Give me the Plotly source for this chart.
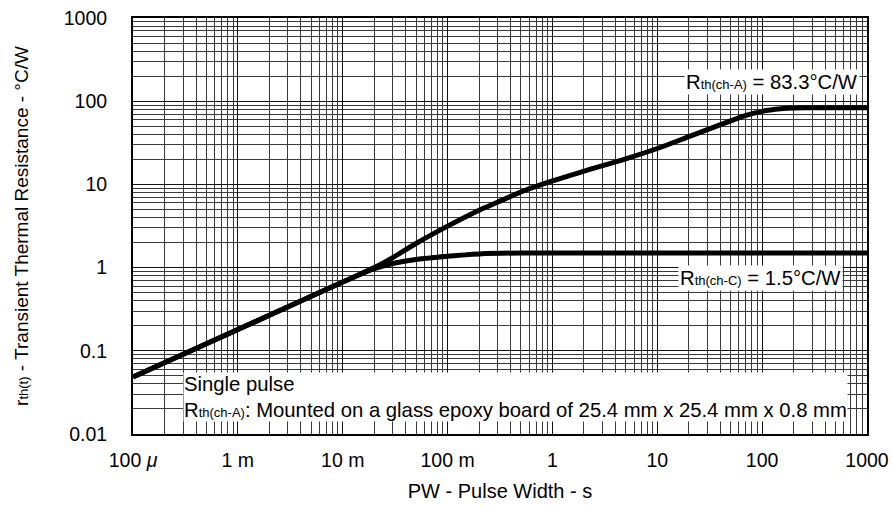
import plotly.graph_objects as go

# Pulse width (s) and transient thermal resistance (°C/W)
pw_a = [1e-4, 1e-3, 1e-2, 2e-2, 3e-2, 5e-2, 0.1, 0.2, 0.3, 0.5, 1, 2, 5, 10, 20, 50, 70, 100, 150, 200, 300, 1000]
rth_a = [0.0486, 0.18, 0.67, 1.0, 1.32, 1.95, 3.15, 4.9, 6.1, 8.1, 11.0, 14.4, 20.3, 27.0, 37.5, 58.0, 67.5, 75.5, 81.0, 83.0, 83.3, 83.3]

pw_c = [1e-4, 1e-3, 1e-2, 2e-2, 3e-2, 5e-2, 0.1, 0.2, 0.5, 1, 10, 100, 1000]
rth_c = [0.0486, 0.18, 0.67, 0.97, 1.12, 1.25, 1.37, 1.46, 1.5, 1.5, 1.5, 1.5, 1.5]

x_tickvals = [1e-4, 1e-3, 1e-2, 1e-1, 1, 10, 100, 1000]
x_ticktext = ["100 <i>μ</i>", "1 m", "10 m", "100 m", "1", "10", "100", "1000"]
y_tickvals = [0.01, 0.1, 1, 10, 100, 1000]
y_ticktext = ["0.01", "0.1", "1", "10", "100", "1000"]

x_minor = [m * 10.0 ** e for e in range(-4, 3) for m in range(2, 10)]
y_minor = [m * 10.0 ** e for e in range(-2, 3) for m in range(2, 10)]

FONT = "Arial, Liberation Sans, sans-serif"
SUB = '<span style="font-size:13px">{}</span>'

fig = go.Figure()
fig.add_trace(go.Scatter(x=pw_a, y=rth_a, mode="lines",
                         line=dict(color="black", width=5, shape="spline", smoothing=0.8),
                         showlegend=False, hoverinfo="skip"))
fig.add_trace(go.Scatter(x=pw_c, y=rth_c, mode="lines",
                         line=dict(color="black", width=5, shape="spline", smoothing=0.8),
                         showlegend=False, hoverinfo="skip"))

axis_common = dict(
    type="log", automargin=False,
    showgrid=True, gridcolor="#111", gridwidth=1,
    showline=True, linecolor="black", linewidth=2, mirror=True,
    ticks="", zeroline=False,
    tickfont=dict(family=FONT, size=19.5, color="black"),
)

fig.update_xaxes(
    **axis_common,
    range=[-4, 3],
    tickmode="array", tickvals=x_tickvals, ticktext=x_ticktext,
    ticklabelstandoff=8,
    minor=dict(tickmode="array", tickvals=x_minor, showgrid=True, gridcolor="#3a3a3a", gridwidth=1, ticks=""),
    title=dict(text="PW - Pulse Width - s", font=dict(family=FONT, size=20, color="black"), standoff=14),
)
fig.update_yaxes(
    **axis_common,
    range=[-2, 3],
    tickmode="array", tickvals=y_tickvals, ticktext=y_ticktext,
    ticklabelstandoff=20,
    minor=dict(tickmode="array", tickvals=y_minor, showgrid=True, gridcolor="#3a3a3a", gridwidth=1, ticks=""),
    title=dict(text="r" + SUB.format("th(t)") + " - Transient Thermal Resistance - °C/W",
               font=dict(family=FONT, size=19, color="black"), standoff=30),
)

ann_font = dict(family=FONT, size=20.3, color="black")
fig.add_annotation(xref="paper", yref="paper", x=0.99, y=0.845, xanchor="right", yanchor="middle",
                   text="R" + SUB.format("th(ch-A)") + " = 83.3°C/W", showarrow=False, bgcolor="white",
                   borderpad=1, font=ann_font)
fig.add_annotation(xref="paper", yref="paper", x=0.9675, y=0.376, xanchor="right", yanchor="middle",
                   text="R" + SUB.format("th(ch-C)") + " = 1.5°C/W", showarrow=False, bgcolor="white",
                   borderpad=1, font=ann_font)
fig.add_annotation(xref="paper", yref="paper", x=0.068, y=0.029, xanchor="left", yanchor="bottom",
                   text="Single pulse<br>R" + SUB.format("th(ch-A)")
                        + ": Mounted on a glass epoxy board of 25.4 mm x 25.4 mm x 0.8 mm",
                   align="left", showarrow=False, bgcolor="white", borderpad=0, font=ann_font)

fig.update_layout(
    width=892, height=508,
    margin=dict(l=133, r=25, t=18, b=74),
    plot_bgcolor="white", paper_bgcolor="white",
    font=dict(family=FONT, color="black"),
)

fig.write_html("out.html")
